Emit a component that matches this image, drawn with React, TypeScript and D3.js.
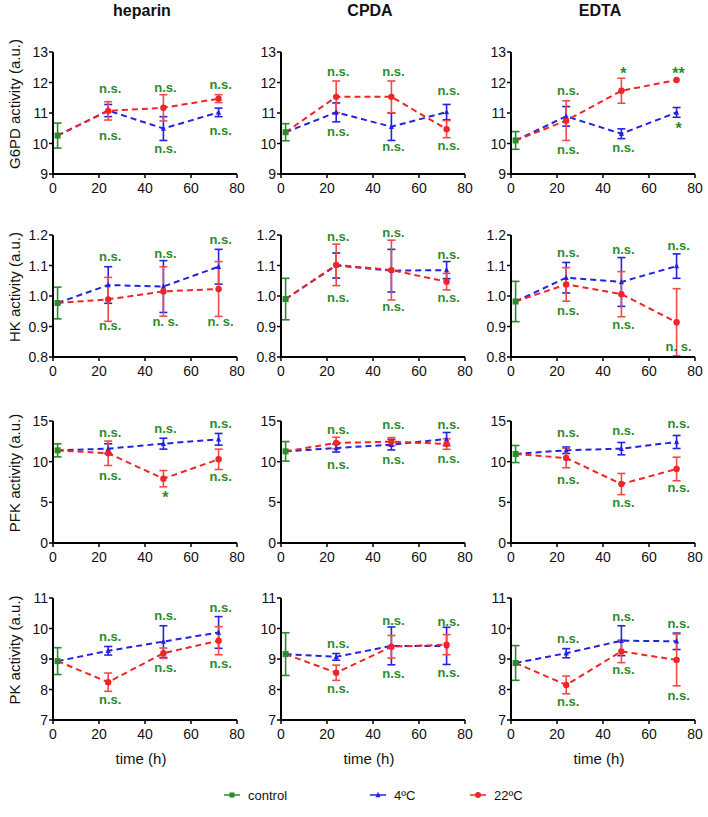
import React from "react";
import * as d3 from "d3";

const columns = ["heparin", "CPDA", "EDTA"];
const enzymes = ["G6PD", "HK", "PFK", "PK"];
const yDomains = [[9, 13], [0.8, 1.2], [0, 15], [7, 11]];
const yTickValues = [[9, 10, 11, 12, 13], [0.8, 0.9, 1.0, 1.1, 1.2], [0, 5, 10, 15], [7, 8, 9, 10, 11]];
const yTickFormats = ["d", ".1f", "d", "d"];
const xTicks = [0, 20, 40, 60, 80];
const controlTime = 2;
const times = [24, 48, 72];
const seriesNames = ["control", "4ºC", "22ºC"];

// G6PD
const g6pdCtrlMean = [10.26, 10.37, 10.1];
const g6pdCtrlErr = [0.41, 0.28, 0.29];
const g6pdColdMean = [[11.08, 10.49, 11.02], [11.02, 10.55, 11.03], [10.89, 10.32, 11.02]];
const g6pdColdErr = [[0.2, 0.39, 0.14], [0.31, 0.45, 0.25], [0.32, 0.16, 0.16]];
const g6pdWarmMean = [[11.07, 11.17, 11.47], [11.53, 11.53, 10.47], [10.75, 11.73, 12.08]];
const g6pdWarmErr = [[0.3, 0.43, 0.13], [0.52, 0.52, 0.28], [0.65, 0.41, 0]];
const g6pdSigTop = [["n.s.", "n.s.", "n.s."], ["n.s.", "n.s.", "n.s."], ["n.s.", "*", "**"]];
const g6pdSigTopY = [[11.81, 11.84, 11.95], [12.35, 12.35, 11.73], [11.75, 12.45, 12.46]];
const g6pdSigBot = [["n.s.", "n.s.", "n.s."], ["n.s.", "n.s.", "n.s."], ["n.s.", "n.s.", "*"]];
const g6pdSigBotY = [[10.25, 9.84, 10.44], [10.39, 9.9, 9.95], [9.8, 9.86, 10.67]];

// HK
const hkCtrlMean = [0.977, 0.99, 0.982];
const hkCtrlErr = [0.052, 0.068, 0.066];
const hkColdMean = [[1.036, 1.031, 1.096], [1.1, 1.083, 1.085], [1.06, 1.046, 1.098]];
const hkColdErr = [[0.06, 0.085, 0.057], [0.041, 0.07, 0.028], [0.05, 0.08, 0.04]];
const hkWarmMean = [[0.989, 1.015, 1.023], [1.102, 1.085, 1.047], [1.038, 1.006, 0.914]];
const hkWarmErr = [[0.072, 0.081, 0.09], [0.068, 0.098, 0.027], [0.055, 0.074, 0.11]];
const hkSigTop = [["n.s.", "n.s.", "n.s."], ["n.s.", "n.s.", "n.s."], ["n.s.", "n.s.", "n.s."]];
const hkSigTopY = [[1.129, 1.14, 1.186], [1.194, 1.209, 1.135], [1.143, 1.152, 1.167]];
const hkSigBot = [["n.s.", "n. s.", "n. s."], ["n.s.", "n.s.", "n.s."], ["n.s.", "n.s.", "n. s."]];
const hkSigBotY = [[0.904, 0.918, 0.918], [0.996, 0.966, 0.996], [0.953, 0.906, 0.834]];

// PFK
const pfkCtrlMean = [11.39, 11.27, 10.94];
const pfkCtrlErr = [0.8, 1.2, 1.05];
const pfkColdMean = [[11.6, 12.21, 12.75], [11.68, 12.09, 12.79], [11.4, 11.6, 12.42]];
const pfkColdErr = [[0.6, 0.67, 0.72], [0.5, 0.65, 0.8], [0.4, 0.76, 0.8]];
const pfkWarmMean = [[11.03, 7.91, 10.29], [12.3, 12.46, 12.17], [10.45, 7.25, 9.1]];
const pfkWarmErr = [[1.5, 1.0, 1.25], [0.7, 0.5, 0.65], [1.2, 1.3, 1.45]];
const pfkSigTop = [["n.s.", "n.s.", "n.s."], ["n.s.", "n.s.", "n.s."], ["n.s.", "n.s.", "n.s."]];
const pfkSigTopY = [[13.57, 14.06, 14.71], [14.02, 14.55, 14.55], [13.61, 13.86, 14.67]];
const pfkSigBot = [["n.s.", "*", "n.s."], ["n.s.", "n.s.", "n.s."], ["n.s.", "n.s.", "n.s."]];
const pfkSigBotY = [[8.32, 6.18, 8.24], [9.71, 10.33, 10.41], [7.87, 5.0, 6.85]];

// PK
const pkCtrlMean = [8.93, 9.16, 8.87];
const pkCtrlErr = [0.44, 0.7, 0.57];
const pkColdMean = [[9.27, 9.57, 9.87], [9.07, 9.43, 9.43], [9.19, 9.6, 9.58]];
const pkColdErr = [[0.14, 0.52, 0.52], [0.11, 0.62, 0.61], [0.15, 0.49, 0.27]];
const pkWarmMean = [[8.24, 9.19, 9.6], [8.55, 9.4, 9.47], [8.15, 9.25, 8.97]];
const pkWarmErr = [[0.3, 0.17, 0.46], [0.25, 0.37, 0.33], [0.29, 0.37, 0.85]];
const pkSigTop = [["n.s.", "n.s.", "n.s."], ["n.s.", "n.s.", "n.s."], ["n.s.", "n.s.", "n.s."]];
const pkSigTopY = [[9.73, 10.44, 10.68], [9.5, 10.28, 10.23], [9.69, 10.4, 10.18]];
const pkSigBot = [["n.s.", "n.s.", "n.s."], ["n.s.", "n.s.", "n.s."], ["n.s.", "n.s.", "n.s."]];
const pkSigBotY = [[7.69, 8.73, 8.84], [8.04, 8.51, 8.55], [7.6, 8.67, 7.82]];

const ctrlMeans = [g6pdCtrlMean, hkCtrlMean, pfkCtrlMean, pkCtrlMean];
const ctrlErrs = [g6pdCtrlErr, hkCtrlErr, pfkCtrlErr, pkCtrlErr];
const coldMeans = [g6pdColdMean, hkColdMean, pfkColdMean, pkColdMean];
const coldErrs = [g6pdColdErr, hkColdErr, pfkColdErr, pkColdErr];
const warmMeans = [g6pdWarmMean, hkWarmMean, pfkWarmMean, pkWarmMean];
const warmErrs = [g6pdWarmErr, hkWarmErr, pfkWarmErr, pkWarmErr];
const sigTop = [g6pdSigTop, hkSigTop, pfkSigTop, pkSigTop];
const sigTopY = [g6pdSigTopY, hkSigTopY, pfkSigTopY, pkSigTopY];
const sigBot = [g6pdSigBot, hkSigBot, pfkSigBot, pkSigBot];
const sigBotY = [g6pdSigBotY, hkSigBotY, pfkSigBotY, pkSigBotY];

const W = 708;
const H = 817;
const colX = [53, 281, 511];
const rowY = [52, 235, 421, 598];
const PW = 184;
const PH = 122;

const GREEN = "#2b8a2b";
const TXTGREEN = "#2e8b2e";
const BLUE = "#2323e0";
const RED = "#f02525";
const REDBAR = "#f04a4a";
const FONT = "'Liberation Sans', Arial, sans-serif";

function Square({ x, y, s = 6, c }: any) {
  return <rect x={x - s / 2} y={y - s / 2} width={s} height={s} fill={c} />;
}
function Tri({ x, y, s = 6, c }: any) {
  const h = s * 0.9;
  return <path d={`M${x},${y - h / 2 - 1}L${x + s / 2},${y + h / 2}L${x - s / 2},${y + h / 2}Z`} fill={c} />;
}
function Dot({ x, y, r = 3.2, c }: any) {
  return <circle cx={x} cy={y} r={r} fill={c} />;
}

function ErrBar({ x, y0, y1, c }: any) {
  const cw = 4;
  return (
    <g stroke={c} strokeWidth={1.6} fill="none">
      <line x1={x} x2={x} y1={y0} y2={y1} />
      <line x1={x - cw} x2={x + cw} y1={y0} y2={y0} />
      <line x1={x - cw} x2={x + cw} y1={y1} y2={y1} />
    </g>
  );
}

function SigLabel({ x, y, s }: any) {
  const star = s.indexOf("*") === 0;
  return (
    <text x={x} y={y + (star ? 5 : 0)} dy="0.35em" textAnchor="middle"
      fontSize={star ? 16 : 13} fontWeight="bold" fontFamily={FONT} fill={TXTGREEN}>
      {s}
    </text>
  );
}

function Panel({ r, c }: { r: number; c: number }) {
  const left = colX[c];
  const top = rowY[r];
  const x = d3.scaleLinear().domain([0, 80]).range([left, left + PW]);
  const y = d3.scaleLinear().domain(yDomains[r]).range([top + PH, top]);
  const fmt = d3.format(yTickFormats[r]);
  const cm = ctrlMeans[r][c];
  const ce = ctrlErrs[r][c];
  const cold = coldMeans[r][c];
  const coldE = coldErrs[r][c];
  const warm = warmMeans[r][c];
  const warmE = warmErrs[r][c];
  const line = d3
    .line<[number, number]>()
    .x((d) => x(d[0]))
    .y((d) => y(d[1]));
  const coldPts: [number, number][] = [[controlTime, cm], ...times.map((t, i) => [t, cold[i]] as [number, number])];
  const warmPts: [number, number][] = [[controlTime, cm], ...times.map((t, i) => [t, warm[i]] as [number, number])];
  const yMin = yDomains[r][0];
  const clampV = (v: number) => Math.max(yMin, v);
  return (
    <g>
      <ErrBar x={x(controlTime)} y0={y(cm + ce)} y1={y(cm - ce)} c={GREEN} />
      {times.map((t, i) =>
        coldE[i] > 0 ? <ErrBar key={"ce" + i} x={x(t)} y0={y(cold[i] + coldE[i])} y1={y(clampV(cold[i] - coldE[i]))} c={BLUE} /> : null
      )}
      {times.map((t, i) =>
        warmE[i] > 0 ? <ErrBar key={"we" + i} x={x(t)} y0={y(warm[i] + warmE[i])} y1={y(clampV(warm[i] - warmE[i]))} c={REDBAR} /> : null
      )}
      <path d={line(coldPts) || ""} fill="none" stroke={BLUE} strokeWidth={2} strokeDasharray="6,4" />
      <path d={line(warmPts) || ""} fill="none" stroke={RED} strokeWidth={2} strokeDasharray="6,4" />
      {times.map((t, i) => <Tri key={"ct" + i} x={x(t)} y={y(cold[i])} s={5} c={BLUE} />)}
      {times.map((t, i) => <Dot key={"wd" + i} x={x(t)} y={y(warm[i])} r={3.2} c={RED} />)}
      <Square x={x(controlTime)} y={y(cm)} s={6} c={GREEN} />
      <line x1={left} x2={left} y1={top} y2={top + PH + 1} stroke="#000" strokeWidth={2} />
      <line x1={left - 1} x2={left + PW} y1={top + PH} y2={top + PH} stroke="#000" strokeWidth={2} />
      {yTickValues[r].map((v) => (
        <g key={"yt" + v}>
          <line x1={left - 4} x2={left} y1={y(v)} y2={y(v)} stroke="#000" strokeWidth={1.5} />
          <text x={left - 5} y={y(v)} dy="0.36em" textAnchor="end" fontSize={14} fontFamily={FONT} fill="#111">
            {fmt(v)}
          </text>
        </g>
      ))}
      {xTicks.map((v) => (
        <g key={"xt" + v}>
          <line x1={x(v)} x2={x(v)} y1={top + PH} y2={top + PH + 4} stroke="#000" strokeWidth={1.5} />
          <text x={x(v)} y={top + PH + 19} textAnchor="middle" fontSize={14} fontFamily={FONT} fill="#111">
            {v}
          </text>
        </g>
      ))}
      {times.map((t, i) => <SigLabel key={"st" + i} x={x(t) + 2} y={y(sigTopY[r][c][i])} s={sigTop[r][c][i]} />)}
      {times.map((t, i) => <SigLabel key={"sb" + i} x={x(t) + 2} y={y(sigBotY[r][c][i])} s={sigBot[r][c][i]} />)}
    </g>
  );
}

export default function App() {
  const legendX = [232, 378, 478];
  const legendY = 795;
  return (
    <svg width={W} height={H} style={{ position: "absolute", left: 0, top: 0, background: "#fff" }}>
      <rect width={W} height={H} fill="#fff" />
      {columns.map((name, c) => (
        <text key={name} x={colX[c] + PW / 2 - 3} y={16} textAnchor="middle" fontSize={16} fontWeight="bold" fontFamily={FONT} fill="#111">
          {name}
        </text>
      ))}
      {enzymes.map((e, r) => (
        <text key={e} transform={`translate(15,${rowY[r] + PH / 2 - 9}) rotate(-90)`} textAnchor="middle" dy="0.35em"
          fontSize={15} fontFamily={FONT} fill="#111">
          {`${e} activity (a.u.)`}
        </text>
      ))}
      {enzymes.map((e, r) => columns.map((col, c) => <Panel key={e + col} r={r} c={c} />))}
      {columns.map((col, c) => (
        <text key={"xl" + col} x={colX[c] + PW / 2 - 4} y={764} textAnchor="middle" fontSize={15} fontFamily={FONT} fill="#111">
          time (h)
        </text>
      ))}
      <g>
        <line x1={legendX[0] - 8} x2={legendX[0] + 8} y1={legendY} y2={legendY} stroke={GREEN} strokeWidth={1.5} />
        <Square x={legendX[0]} y={legendY} s={5} c={GREEN} />
        <text x={legendX[0] + 16} y={legendY} dy="0.35em" fontSize={13} fontFamily={FONT} fill="#111">{seriesNames[0]}</text>
        <line x1={legendX[1] - 8} x2={legendX[1] + 8} y1={legendY} y2={legendY} stroke={BLUE} strokeWidth={1.5} />
        <Tri x={legendX[1]} y={legendY} s={5} c={BLUE} />
        <text x={legendX[1] + 16} y={legendY} dy="0.35em" fontSize={13} fontFamily={FONT} fill="#111">{seriesNames[1]}</text>
        <line x1={legendX[2] - 8} x2={legendX[2] + 8} y1={legendY} y2={legendY} stroke={RED} strokeWidth={1.5} />
        <Dot x={legendX[2]} y={legendY} r={3} c={RED} />
        <text x={legendX[2] + 16} y={legendY} dy="0.35em" fontSize={13} fontFamily={FONT} fill="#111">{seriesNames[2]}</text>
      </g>
    </svg>
  );
}
